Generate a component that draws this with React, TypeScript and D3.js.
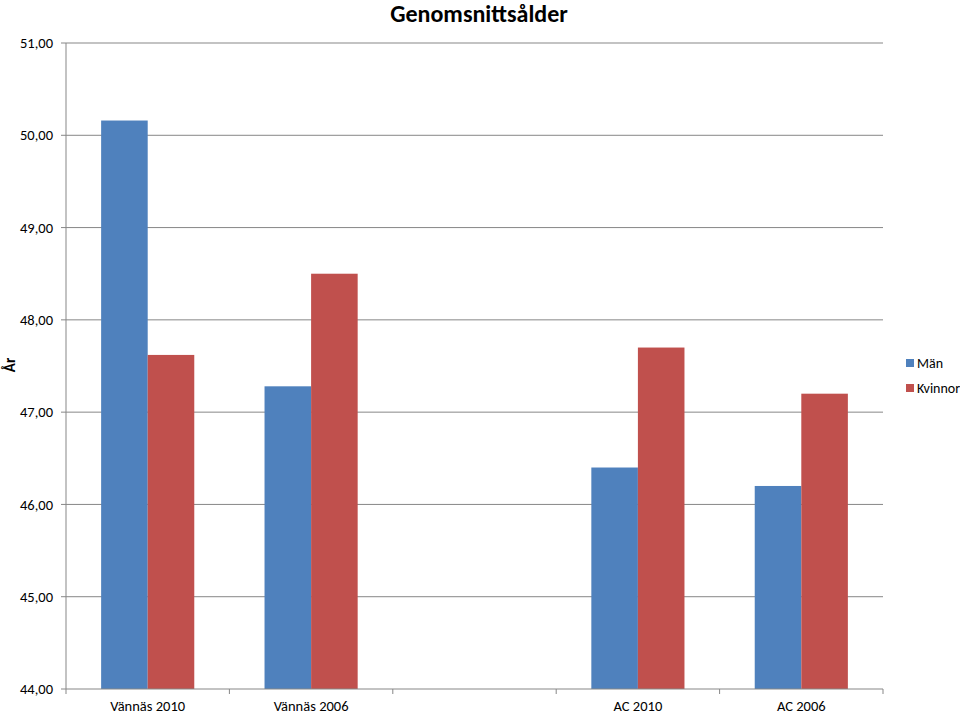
import React from "react";
import * as d3 from "d3";

const categories = ["Vännäs 2010", "Vännäs 2006", "", "AC 2010", "AC 2006"];
const seriesNames = ["Män", "Kvinnor"];
const manValues = [50.16, 47.28, NaN, 46.4, 46.2];
const kvinnorValues = [47.62, 48.5, NaN, 47.7, 47.2];
const yTicks = [44, 45, 46, 47, 48, 49, 50, 51];
const colors = ["#4F81BD", "#C0504D"];

export default function App() {
  const width = 960;
  const height = 714;
  const left = 66;
  const right = 883;
  const top = 43;
  const bottom = 689;
  const font = "Carlito, Calibri, 'Open Sans', 'Liberation Sans', sans-serif";

  const x = d3.scaleBand<number>().domain(d3.range(categories.length)).range([left, right]).paddingInner(0).paddingOuter(0);
  const y = d3.scaleLinear().domain([44, 51]).range([bottom, top]);
  const bw = x.bandwidth();
  const barW = bw * 0.285;
  const series = [manValues, kvinnorValues];
  const fmt = (v: number) => v.toFixed(2).replace(".", ",");

  return (
    <svg width={width} height={height} style={{ position: "absolute", left: 0, top: 0, background: "#fff" }}>
      <text x={479} y={22} textAnchor="middle" fontFamily={font} fontWeight="bold" fontSize={24}>Genomsnittsålder</text>
      {yTicks.map((t) => (
        <g key={t}>
          {t > 44 && <line x1={left} x2={right} y1={y(t)} y2={y(t)} stroke="#878787" strokeWidth={1} />}
          <line x1={left - 5} x2={left} y1={y(t)} y2={y(t)} stroke="#878787" />
          <text x={53} y={y(t)} dy="0.35em" textAnchor="end" fontFamily={font} fontSize={14.5}>{fmt(t)}</text>
        </g>
      ))}
      {categories.map((c, i) => {
        const cx = (x(i) as number) + bw / 2;
        return (
          <g key={i}>
            {series.map((s, j) => {
              const v = s[i];
              if (!isFinite(v)) return null;
              const bx = cx - barW + j * barW;
              return <rect key={j} x={bx} y={y(v)} width={barW} height={bottom - y(v)} fill={colors[j]} />;
            })}
            <text x={cx} y={711} textAnchor="middle" fontFamily={font} fontSize={14.5}>{c}</text>
          </g>
        );
      })}
      <line x1={left} x2={left} y1={top} y2={bottom} stroke="#878787" />
      <line x1={left} x2={right} y1={bottom} y2={bottom} stroke="#878787" />
      {d3.range(categories.length + 1).map((i) => {
        const xx = left + i * bw;
        return <line key={i} x1={xx} x2={xx} y1={bottom} y2={bottom + 5} stroke="#878787" />;
      })}
      <text transform={`translate(15,365) rotate(-90)`} textAnchor="middle" fontFamily={font} fontWeight="bold" fontSize={15}>År</text>
      {seriesNames.map((n, j) => (
        <g key={n}>
          <rect x={906} y={359 + j * 25} width={8} height={8} fill={colors[j]} />
          <text x={917} y={363 + j * 25} dy="0.35em" fontFamily={font} fontSize={14}>{n}</text>
        </g>
      ))}
    </svg>
  );
}
